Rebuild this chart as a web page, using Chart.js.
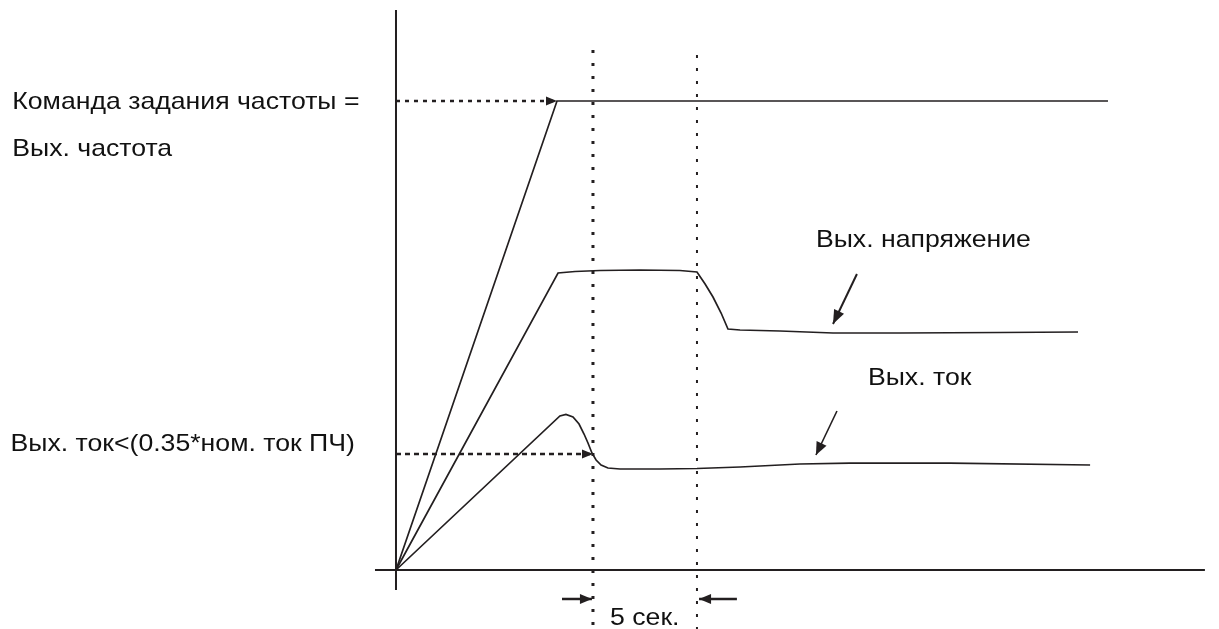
<!DOCTYPE html>
<html>
<head>
<meta charset="utf-8">
<script src="https://cdn.jsdelivr.net/npm/chart.js@4.4.1/dist/chart.umd.min.js"></script>
<style>
html,body{margin:0;padding:0;background:#fff;}
#wrap{position:relative;width:1219px;height:629px;}
</style>
</head>
<body>
<div id="wrap"><canvas id="c"></canvas></div>
<script>
// Units: x = time in seconds from start, y = % of frequency command level
const frequency = [[0,0],[7.74,100],[34.23,100]];
const voltage = [[0,0],[7.79,63.33],[8.61,63.65],[9.81,63.86],[11.73,63.97],[13.65,63.86],[14.47,63.54],
  [14.86,60.98],[15.24,58.21],[15.63,54.80],[15.96,51.39],[16.54,51.17],[18.46,50.96],[21.01,50.53],
  [24.23,50.53],[29.04,50.64],[32.79,50.75]];
const current = [[0,0],[7.88,32.84],[8.17,33.16],[8.51,32.62],[8.80,31.13],[9.04,29.00],[9.23,27.08],
  [9.42,24.95],[9.62,23.45],[9.86,22.39],[10.19,21.75],[10.77,21.54],[12.69,21.54],[14.47,21.64],
  [16.54,21.96],[19.42,22.60],[21.83,22.81],[26.63,22.81],[33.37,22.39]];
const currentThreshold = 24.73;   // 0.35 * rated current level
const freqCommand = 100;
const markerTimes = [9.47, 14.47]; // 5 s interval
const yAxisLine = [[0,-4.26],[0,119.40]];
const xAxisLine = [[-1.01,0],[38.89,0]];
const markerTop = [110.87, 109.81];
const markerBottom = -12.58;
const voltArrow = [[22.16,63.11],[21.01,52.45]];
const currArrow = [[21.20,33.90],[20.19,24.52]];
const leftIntervalArrow = [[7.98,-6.18],[9.42,-6.18]];
const rightIntervalArrow = [[16.39,-6.18],[14.57,-6.18]];
const labels = [
  {text:'Команда задания частоты =', x:-18.45, y:98.29},
  {text:'Вых. частота', x:-18.45, y:88.27},
  {text:'Вых. напряжение', x:20.19, y:68.87},
  {text:'Вых. ток', x:22.69, y:39.45},
  {text:'Вых. ток<(0.35*ном. ток ПЧ)', x:-18.53, y:25.37},
  {text:'5 сек.', x:10.29, y:-11.73}
];

const INK = '#231f20';
const pts = a => a.map(p => ({x:p[0], y:p[1]}));
function line(data, opts) {
  return Object.assign({data: pts(data), showLine:true, borderColor:INK, backgroundColor:INK,
    borderWidth:1.6, pointRadius:0, tension:0, fill:false}, opts||{});
}

const datasets = [
  line(yAxisLine, {borderWidth:2}),
  line(xAxisLine, {borderWidth:2}),
  line([[markerTimes[0], markerTop[0]],[markerTimes[0], markerBottom]], {borderWidth:3, borderDash:[3,10]}),
  line([[markerTimes[1], markerTop[1]],[markerTimes[1], markerBottom]], {borderWidth:2, borderDash:[3,10]}),
  line([[0,freqCommand],[frequency[1][0],freqCommand]], {borderWidth:2.5, borderDash:[4,5], arrow:{len:11, half:4.5}}),
  line([[0,currentThreshold],[markerTimes[0],currentThreshold]], {borderWidth:2.5, borderDash:[5,4], arrow:{len:11, half:4.5}}),
  line(frequency, {borderWidth:1.7}),
  line(voltage, {borderWidth:1.7}),
  line(current, {borderWidth:1.7}),
  line(voltArrow, {borderWidth:2, arrow:{len:14, half:5.5}}),
  line(currArrow, {borderWidth:1.6, arrow:{len:13, half:5.5}}),
  line(leftIntervalArrow, {borderWidth:2.5, arrow:{len:12, half:5}}),
  line(rightIntervalArrow, {borderWidth:2.5, arrow:{len:12, half:5}})
];

const arrowPlugin = {
  id:'arrows',
  afterDatasetsDraw(chart) {
    const ctx = chart.ctx;
    chart.data.datasets.forEach((ds, i) => {
      if (!ds.arrow) return;
      const els = chart.getDatasetMeta(i).data;
      const a = els[els.length-2], b = els[els.length-1];
      const ang = Math.atan2(b.y - a.y, b.x - a.x);
      const L = ds.arrow.len, H = ds.arrow.half;
      ctx.save();
      ctx.fillStyle = INK;
      ctx.translate(b.x, b.y);
      ctx.rotate(ang);
      ctx.beginPath();
      ctx.moveTo(0,0);
      ctx.lineTo(-L, -H);
      ctx.lineTo(-L, H);
      ctx.closePath();
      ctx.fill();
      ctx.restore();
    });
  }
};

const labelPlugin = {
  id:'labels',
  afterDraw(chart) {
    const ctx = chart.ctx, xs = chart.scales.x, ys = chart.scales.y;
    labels.forEach(l => {
      ctx.save();
      ctx.fillStyle = '#111';
      ctx.font = '24px "Liberation Sans", Arial, sans-serif';
      ctx.textBaseline = 'alphabetic';
      ctx.textAlign = 'left';
      ctx.translate(xs.getPixelForValue(l.x), ys.getPixelForValue(l.y));
      ctx.scale(1.11, 1);
      ctx.fillText(l.text, 0, 0);
      ctx.restore();
    });
  }
};

new Chart(document.getElementById('c'), {
  type:'scatter',
  data:{datasets},
  options:{
    responsive:true, maintainAspectRatio:false, animation:false,
    layout:{padding:0},
    plugins:{legend:{display:false}, tooltip:{enabled:false}},
    scales:{
      x:{type:'linear', display:false, min:-19.038, max:39.567},
      y:{type:'linear', display:false, min:-12.58, max:121.54}
    }
  },
  plugins:[arrowPlugin, labelPlugin]
});
</script>
</body>
</html>
